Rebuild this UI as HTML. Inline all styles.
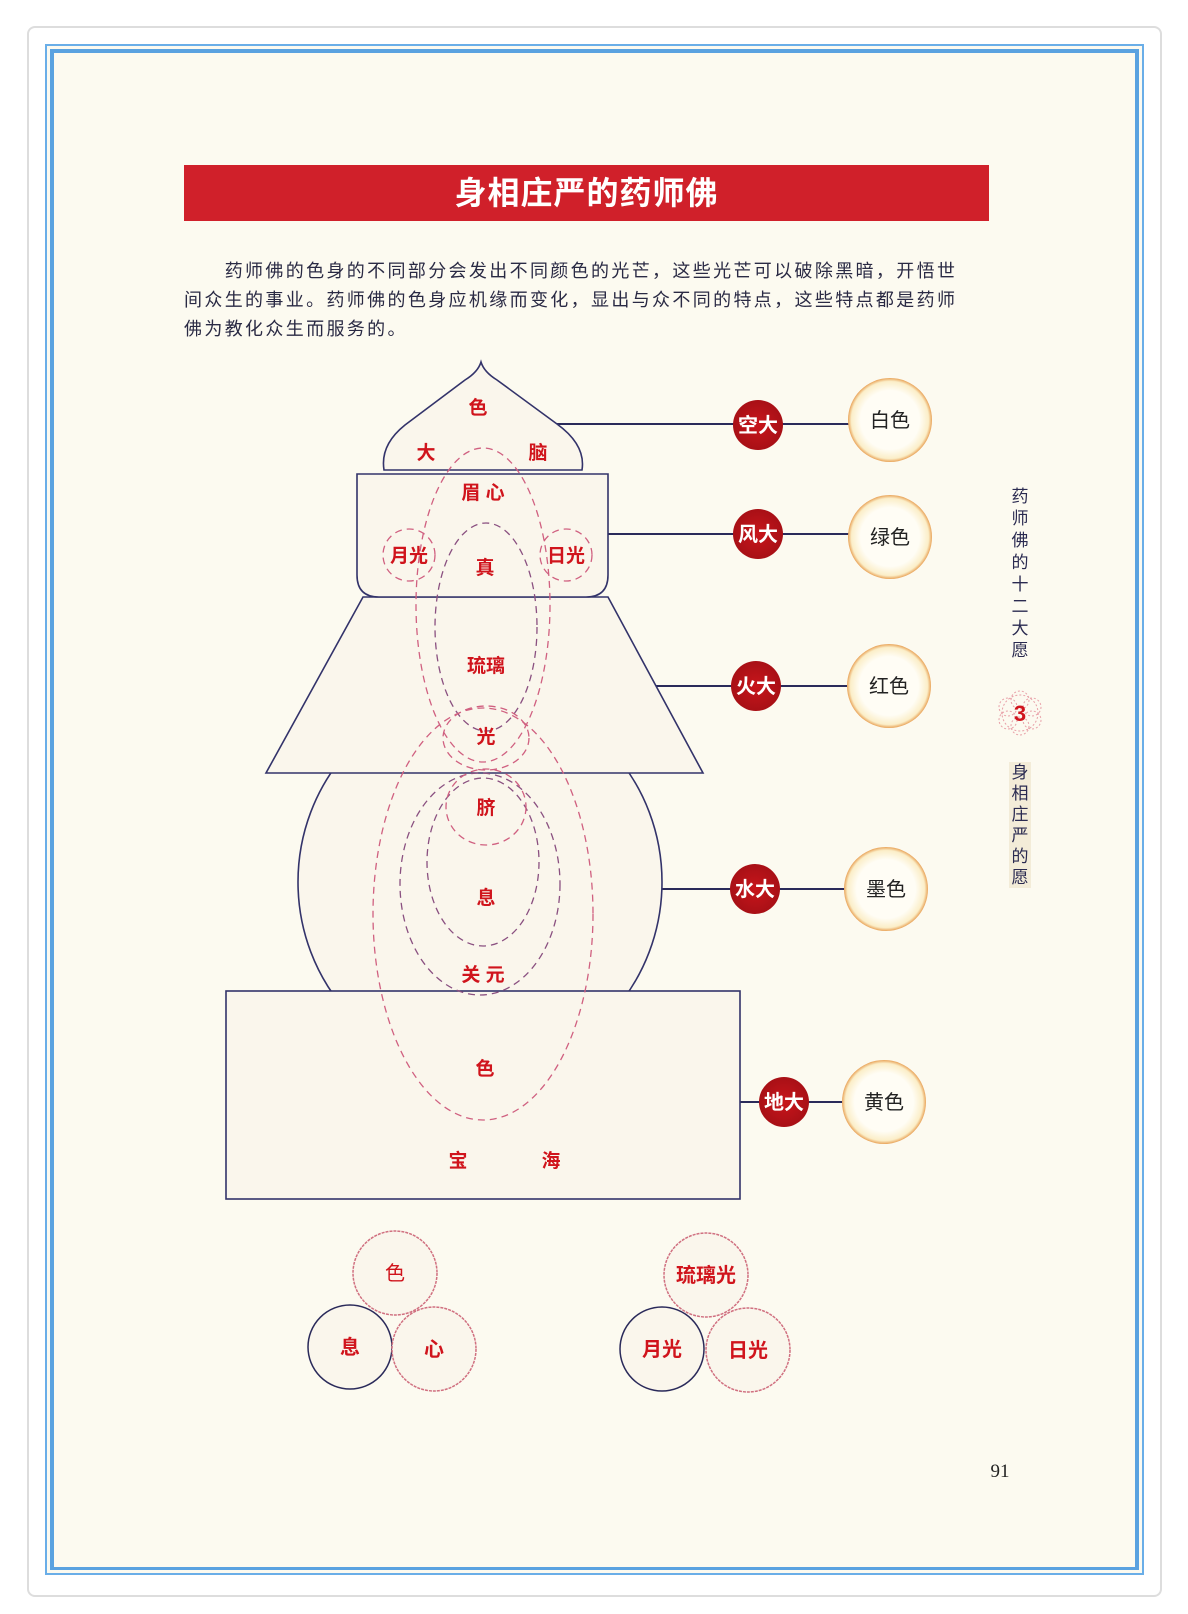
<!DOCTYPE html>
<html><head><meta charset="utf-8"><style>
html,body{margin:0;padding:0;background:#fff;}
body{width:1188px;height:1614px;position:relative;overflow:hidden;font-family:"Liberation Sans","Noto Sans CJK SC",sans-serif;}
.frame{position:absolute;left:27px;top:26px;width:1131px;height:1567px;border:2px solid #ddd;border-radius:8px;background:#fff;}
.page{position:absolute;left:45px;top:44px;width:1099px;height:1531px;background:#fcfaf0;border:2px solid #6aaee8;box-sizing:border-box;}
.page2{position:absolute;left:50px;top:49px;width:1089px;height:1521px;border:4px solid #5aa2e0;border-bottom-width:3px;box-sizing:border-box;}
.title{position:absolute;left:184px;top:165px;width:805px;height:56px;background:#d0202a;color:#fff;font-weight:bold;font-size:32px;text-align:center;line-height:56px;letter-spacing:1px;font-family:"Liberation Sans","Noto Sans CJK SC",sans-serif;}
.para{position:absolute;left:184px;top:257px;width:790px;font-size:18px;line-height:29px;letter-spacing:2.35px;color:#2a2a44;font-family:"Liberation Sans","Noto Sans CJK SC",sans-serif;}
svg{position:absolute;left:0;top:0;}
.side{position:absolute;left:1009px;width:22px;font-size:17px;line-height:22px;color:#2a2a50;text-align:center;font-family:"Liberation Sans","Noto Sans CJK SC",sans-serif;}
</style></head><body>
<div class="frame"></div>
<div class="page"></div>
<div class="page2"></div>
<div class="title">身相庄严的药师佛</div>
<div class="para">&#12288;&#12288;药师佛的色身的不同部分会发出不同颜色的光芒，这些光芒可以破除黑暗，开悟世间众生的事业。药师佛的色身应机缘而变化，显出与众不同的特点，这些特点都是药师佛为教化众生而服务的。</div>
<div class="side" style="top:486px">药<br>师<br>佛<br>的<br>十<br>二<br>大<br>愿</div>
<div class="side" style="top:762px;background:#f3ecd8;line-height:21px">身<br>相<br>庄<br>严<br>的<br>愿</div>
<svg width="1188" height="1614" font-family="Liberation Sans, Noto Sans CJK SC, sans-serif">
<defs>
<radialGradient id="rg" cx="50%" cy="50%" r="50%"><stop offset="0" stop-color="#c8151b"/><stop offset="1" stop-color="#a81016"/></radialGradient>
<radialGradient id="cg" cx="50%" cy="50%" r="50%"><stop offset="0.7" stop-color="#fffdf5"/><stop offset="0.92" stop-color="#fbeec8"/><stop offset="1" stop-color="#e9a45a"/></radialGradient>
</defs>
<!-- flower for 3 -->
<g fill="none" stroke="#e8a0a8" stroke-dasharray="2 2" stroke-width="1">
<circle cx="1020" cy="713" r="18"/><circle cx="1020" cy="700" r="9"/><circle cx="1020" cy="726" r="9"/><circle cx="1008" cy="707" r="9"/><circle cx="1032" cy="707" r="9"/><circle cx="1008" cy="720" r="9"/><circle cx="1032" cy="720" r="9"/>
</g>
<text x="1020" y="721" font-size="22" font-weight="bold" fill="#d0141c" text-anchor="middle">3</text>
<!-- connectors -->
<g stroke="#2a2a5a" stroke-width="2">
<line x1="557" y1="424" x2="890" y2="424"/>
<line x1="608" y1="534" x2="890" y2="534"/>
<line x1="654" y1="686" x2="889" y2="686"/>
<line x1="662" y1="889" x2="886" y2="889"/>
<line x1="740" y1="1102" x2="884" y2="1102"/>
</g>
<!-- body shapes -->
<g fill="#faf6ec" stroke="#33336a" stroke-width="1.6">
<ellipse cx="480" cy="882" rx="182" ry="190"/>
<rect x="226" y="991" width="514" height="208"/>
<path d="M363 597 L608 597 L703 773 L266 773 Z"/>
<path d="M357 474 L608 474 L608 575 Q608 597 586 597 L379 597 Q357 597 357 575 Z"/>
<path d="M384 470 Q380 445 405 425 L465 380 Q478 372 481 362 Q484 372 497 380 L557 424 Q586 445 582 470 Z"/>
</g>
<!-- dashed ellipses -->
<g fill="none" stroke-dasharray="7 5" stroke-width="1.3">
<ellipse cx="483" cy="605" rx="67" ry="157" stroke="#d06080"/>
<ellipse cx="486" cy="627" rx="51" ry="104" stroke="#8a5080"/>
<ellipse cx="483" cy="914" rx="110" ry="206" stroke="#d06080"/>
<ellipse cx="480" cy="884" rx="80" ry="111" stroke="#8a5080"/>
<ellipse cx="483" cy="862" rx="56" ry="84" stroke="#8a5080"/>
<ellipse cx="486" cy="738" rx="43" ry="32" stroke="#d06080"/>
<ellipse cx="486" cy="807" rx="40" ry="38" stroke="#d06080"/>
<circle cx="409" cy="555" r="26" stroke="#d06080"/>
<circle cx="566" cy="555" r="26" stroke="#d06080"/>
</g>
<g fill="#d0141c" font-size="19" font-weight="bold" text-anchor="middle">
<text x="478" y="414">色</text>
<text x="426" y="459">大</text>
<text x="538" y="459">脑</text>
<text x="483" y="499">眉 心</text>
<text x="409" y="562">月光</text>
<text x="566" y="562">日光</text>
<text x="485" y="574">真</text>
<text x="486" y="672">琉璃</text>
<text x="486" y="743">光</text>
<text x="486" y="814">脐</text>
<text x="486" y="904">息</text>
<text x="483" y="981">关 元</text>
<text x="485" y="1075">色</text>
<text x="458" y="1167">宝</text>
<text x="551" y="1167">海</text>
</g>
<!-- element circles -->
<g fill="url(#rg)">
<circle cx="758" cy="425" r="25"/><circle cx="758" cy="534" r="25"/><circle cx="756" cy="686" r="25"/><circle cx="755" cy="889" r="25"/><circle cx="784" cy="1102" r="25"/>
</g>
<g fill="#fff" font-size="20" font-weight="bold" text-anchor="middle">
<text x="758" y="432">空大</text><text x="758" y="541">风大</text><text x="756" y="693">火大</text><text x="755" y="896">水大</text><text x="784" y="1109">地大</text>
</g>
<g fill="url(#cg)">
<circle cx="890" cy="420" r="42"/><circle cx="890" cy="537" r="42"/><circle cx="889" cy="686" r="42"/><circle cx="886" cy="889" r="42"/><circle cx="884" cy="1102" r="42"/>
</g>
<g fill="#222" font-size="20" text-anchor="middle">
<text x="890" y="427">白色</text><text x="890" y="544">绿色</text><text x="889" y="693">红色</text><text x="886" y="896">墨色</text><text x="884" y="1109">黄色</text>
</g>
<!-- bottom circles -->
<g fill="#faf6ec" stroke-width="1.5">
<circle cx="395" cy="1273" r="42" stroke="#d07080" stroke-dasharray="3 1"/>
<circle cx="350" cy="1347" r="42" stroke="#2a2a5a"/>
<circle cx="434" cy="1349" r="42" stroke="#d07080" stroke-dasharray="3 1"/>
<circle cx="706" cy="1275" r="42" stroke="#d07080" stroke-dasharray="3 1"/>
<circle cx="662" cy="1349" r="42" stroke="#2a2a5a"/>
<circle cx="748" cy="1350" r="42" stroke="#d07080" stroke-dasharray="3 1"/>
</g>
<g fill="#d0141c" font-size="20" text-anchor="middle">
<text x="395" y="1280">色</text><text x="350" y="1354" font-weight="bold">息</text><text x="434" y="1356" font-weight="bold">心</text>
<text x="706" y="1282" font-weight="bold">琉璃光</text><text x="662" y="1356" font-weight="bold">月光</text><text x="748" y="1357" font-weight="bold">日光</text>
</g>
<text x="1000" y="1477" font-size="19" fill="#222" text-anchor="middle" font-family="Liberation Serif, serif">91</text>
</svg>
</body></html>
